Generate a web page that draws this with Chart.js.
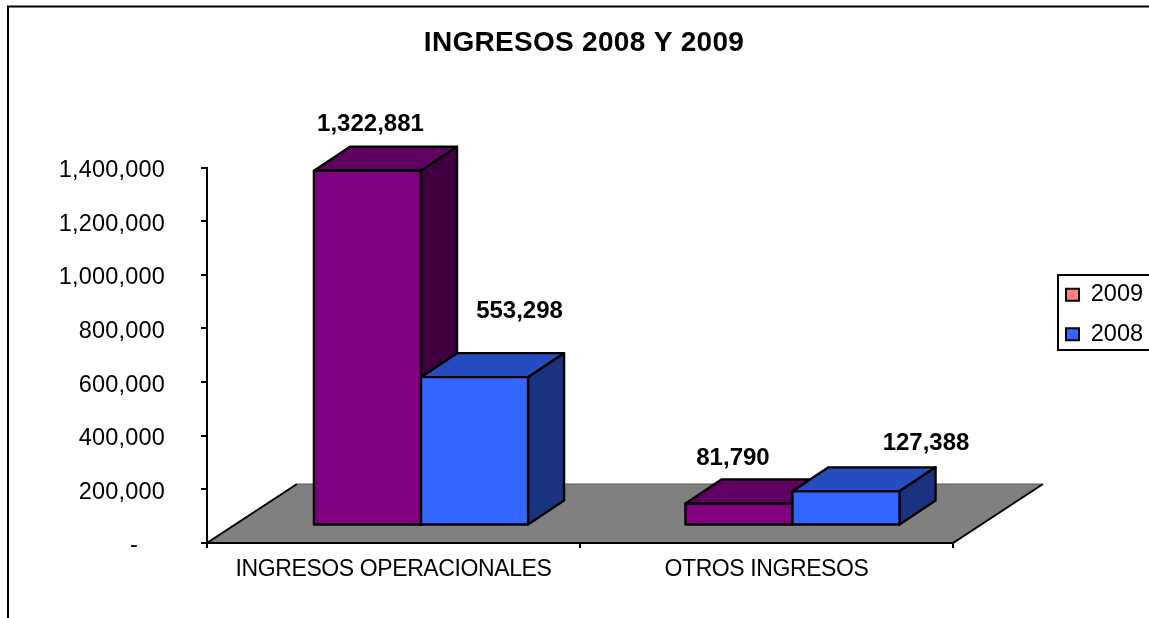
<!DOCTYPE html>
<html>
<head>
<meta charset="utf-8">
<style>html,body{margin:0;padding:0;background:#fff}canvas{display:block}</style>
<script src="https://cdn.jsdelivr.net/npm/chart.js@4"></script>
</head>
<body>
<canvas id="c" width="1149" height="618"></canvas>
<script>
const categories = ['INGRESOS OPERACIONALES', 'OTROS INGRESOS'];
const values2009 = [1322881, 81790];
const values2008 = [553298, 127388];
const seriesNames = ['2009', '2008'];
const frontColors = ['#800080', '#3366FF'];
const topColors = ['#600060', '#264DBF'];
const sideColors = ['#400040', '#1A3380'];
const legendColors = ['#FF8080', '#3366FF'];
const floorColor = '#808080';
const titleText = 'INGRESOS 2008 Y 2009';
// label placement relative to each bar's top centre [series][category]
const labelOffsets = [[[3, -46], [-6, -45]], [[45, -66], [80, -48]]];

const FONT = '"Liberation Sans", Arial, sans-serif';
const barShiftX = [27.5, 26];
const barShiftY = -17.5;
const depth = {x: 36, y: -24};
const floorDepth = {x: 90, y: -59};
const edgeWidth = 2.4;

function poly(ctx, pts, fill, stroke, lw) {
  ctx.beginPath();
  pts.forEach((p, i) => i ? ctx.lineTo(p[0], p[1]) : ctx.moveTo(p[0], p[1]));
  ctx.closePath();
  if (fill) {
    ctx.fillStyle = fill;
    ctx.fill();
  }
  if (stroke) {
    ctx.strokeStyle = stroke;
    ctx.lineWidth = lw;
    ctx.lineJoin = 'round';
    ctx.stroke();
  }
}

const scene = {
  id: 'scene',
  afterLayout(chart) {
    const lg = chart.legend;
    lg.left = 1050; lg.right = 1149; lg.top = 267; lg.bottom = 420;
    chart.titleBlock.left = 19; chart.titleBlock.right = 1149;
    const ctx = chart.ctx;
    const wrap = (obj, name, ls, dy) => {
      if (obj['__w' + name]) return;
      obj['__w' + name] = true;
      const orig = obj[name];
      obj[name] = function (...a) {
        ctx.save();
        ctx.letterSpacing = ls;
        ctx.translate(0, dy);
        const r = orig.apply(this, a);
        ctx.restore();
        return r;
      };
    };
    wrap(chart.scales.y, 'drawLabels', '0.2px', 3);
    wrap(chart.scales.x, 'drawLabels', '-0.4px', 0);
    wrap(chart.titleBlock, 'draw', '0.3px', 1);
  },
  beforeDraw(chart) {
    const ctx = chart.ctx;
    ctx.save();
    ctx.fillStyle = '#fff';
    ctx.fillRect(0, 0, chart.width, chart.height);
    ctx.strokeStyle = '#000';
    ctx.lineWidth = 2;
    ctx.beginPath();
    ctx.moveTo(8, chart.height + 2);
    ctx.lineTo(8, 6.5);
    ctx.lineTo(chart.width + 2, 6.5);
    ctx.stroke();
    ctx.strokeRect(1058, 275, 100, 75);
    ctx.restore();
  },
  beforeDatasetsDraw(chart) {
    const ctx = chart.ctx;
    const {left, right} = chart.scales.x;
    const b = chart.scales.y.getPixelForValue(0);
    ctx.save();
    const fl = [[left, b], [right, b], [right + floorDepth.x, b + floorDepth.y], [left + floorDepth.x, b + floorDepth.y]];
    poly(ctx, fl, floorColor);
    ctx.strokeStyle = '#000';
    ctx.lineWidth = 2;
    ctx.beginPath();
    ctx.moveTo(fl[3][0], fl[3][1]);
    ctx.lineTo(fl[0][0], fl[0][1]);
    ctx.lineTo(fl[1][0], fl[1][1]);
    ctx.lineTo(fl[2][0], fl[2][1]);
    ctx.stroke();
    ctx.strokeStyle = '#555';
    ctx.lineWidth = 1;
    ctx.beginPath();
    ctx.moveTo(fl[3][0], fl[3][1]);
    ctx.lineTo(fl[2][0], fl[2][1]);
    ctx.stroke();
    ctx.restore();

    categories.forEach((_, ci) => {
      chart.data.datasets.forEach((ds, si) => {
        const el = chart.getDatasetMeta(si).data[ci];
        const x0 = el.x - el.width / 2, x1 = el.x + el.width / 2, yT = el.y, yB = el.base;
        ctx.save();
        ctx.translate(barShiftX[ci], barShiftY);
        poly(ctx, [[x0, yT], [x0 + depth.x, yT + depth.y], [x1 + depth.x, yT + depth.y], [x1, yT]], topColors[si], '#000', edgeWidth);
        poly(ctx, [[x1, yT], [x1 + depth.x, yT + depth.y], [x1 + depth.x, yB + depth.y], [x1, yB]], sideColors[si], '#000', edgeWidth);
        el.draw(ctx);
        poly(ctx, [[x0, yT], [x1, yT], [x1, yB], [x0, yB]], null, '#000', edgeWidth);
        ctx.restore();
      });
    });
    return false;
  },
  afterDraw(chart) {
    const ctx = chart.ctx;
    ctx.save();
    ctx.font = 'bold 24px ' + FONT;
    ctx.fillStyle = '#000';
    ctx.textAlign = 'center';
    ctx.textBaseline = 'middle';
    chart.data.datasets.forEach((ds, si) => {
      ds.data.forEach((v, ci) => {
        const el = chart.getDatasetMeta(si).data[ci];
        const o = labelOffsets[si][ci];
        ctx.fillText(v.toLocaleString('en-US'), el.x + barShiftX[ci] + o[0], el.y + barShiftY + o[1]);
      });
    });
    ctx.restore();
  }
};

new Chart(document.getElementById('c'), {
  type: 'bar',
  data: {
    labels: categories,
    datasets: [
      {label: seriesNames[0], data: values2009, backgroundColor: frontColors[0], borderWidth: 0},
      {label: seriesNames[1], data: values2008, backgroundColor: frontColors[1], borderWidth: 0}
    ]
  },
  plugins: [scene],
  options: {
    responsive: false,
    animation: false,
    events: [],
    layout: {padding: {left: 19, right: 195, top: 0, bottom: 0}},
    datasets: {bar: {barPercentage: 1, categoryPercentage: 0.574}},
    plugins: {
      tooltip: {enabled: false},
      title: {
        display: true,
        text: titleText,
        color: '#000',
        font: {family: FONT, size: 28, weight: 'bold'},
        padding: {top: 25, bottom: 109}
      },
      legend: {
        position: 'right',
        align: 'start',
        maxWidth: 1,
        labels: {
          color: '#000',
          font: {family: FONT, size: 23.5},
          boxWidth: 13,
          boxHeight: 12,
          padding: 16,
          generateLabels: () => seriesNames.map((n, i) => ({
            text: n, fillStyle: legendColors[i], strokeStyle: '#000', lineWidth: 2, datasetIndex: i, hidden: false
          }))
        }
      }
    },
    scales: {
      x: {
        afterFit(s) { s.height = 75; },
        grid: {drawOnChartArea: false, color: '#000', tickLength: 5, lineWidth: 2},
        border: {color: '#000', width: 2},
        ticks: {color: '#000', font: {family: FONT, size: 23}, padding: 8, maxRotation: 0, autoSkip: false}
      },
      y: {
        min: 0,
        max: 1400000,
        afterFit(s) { s.width = 188; },
        grid: {drawOnChartArea: false, color: '#000', tickLength: 6, lineWidth: 2},
        border: {color: '#000', width: 2},
        ticks: {
          stepSize: 200000,
          color: '#000',
          font: {family: FONT, size: 23.5},
          padding: 36,
          callback: v => v === 0 ? '-\u00a0\u00a0\u00a0\u00a0' : v.toLocaleString('en-US')
        }
      }
    }
  }
});
</script>
</body>
</html>
